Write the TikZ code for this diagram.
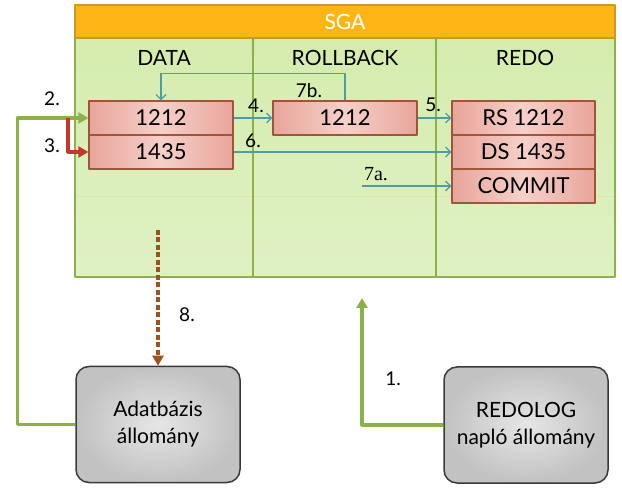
\documentclass[tikz,border=0pt]{standalone}
\usepackage{fontspec}
\setmainfont{Lato}
\newfontfamily\serifnum{Liberation Serif}
\usetikzlibrary{arrows.meta}
\definecolor{sgaorange}{HTML}{FFB514}
\definecolor{sgaedge}{HTML}{C99A24}
\definecolor{sgagreen}{HTML}{8EB04A}
\definecolor{bodytop}{HTML}{D5ECAE}
\definecolor{bodybot}{HTML}{DFF1C3}
\definecolor{recedge}{HTML}{A0553A}
\definecolor{recdark}{HTML}{E8A59B}
\definecolor{reclight}{HTML}{F5D0C9}
\definecolor{flowteal}{HTML}{4E9CA6}
\definecolor{flowred}{HTML}{C0392B}
\definecolor{flowbrown}{HTML}{A0521E}
\definecolor{fileedge}{HTML}{3A3A3A}
\tikzset{
	rec/.style={draw=recedge,line width=1.3pt,left color=recdark,right color=recdark,middle color=reclight,
		minimum width=144pt,minimum height=34pt,inner sep=0pt,font=\fontsize{22}{26}\selectfont},
	file/.style={draw=fileedge,line width=1.5pt,rounded corners=13pt,inner color=gray!20,outer color=gray!48,
		minimum width=164pt,minimum height=116pt,align=center,font=\fontsize{21}{27}\selectfont},
	lbl/.style={font=\fontsize{19}{22}\selectfont,inner sep=1pt},
	colhead/.style={font=\fontsize{21}{24}\selectfont},
	flow/.style={draw=flowteal,line width=1.2pt,-{Straight Barb[length=5pt,width=10pt]}},
	load/.style={draw=sgagreen,line width=3.2pt,-{Triangle[length=10pt,width=11pt]}}
}
\begin{document}
\begin{tikzpicture}[x=1pt,y=-1pt,line join=round]
	\useasboundingbox (0,0) rectangle (622,489);
	% SGA
	\draw[sgagreen,line width=2.4pt,top color=bodytop,bottom color=bodybot] (75,38) rectangle (615,277);
	\draw[sgaedge,line width=1.6pt,fill=sgaorange] (75,5) rectangle (615,38);
	\draw[bodytop!85!sgaorange,line width=0.5pt,opacity=0.6] (76,196)--(614,196);
	\draw[sgagreen,line width=1.3pt] (253,38)--(253,277) (436,38)--(436,277);
	\node[colhead,text=white] (sga) at (345,22) {SGA};
	\node[colhead] (hdata) at (164,58) {DATA};
	\node[colhead] (hroll) at (345,58) {ROLLBACK};
	\node[colhead] (hredo) at (525,58) {REDO};
	% blocks
	\node[rec] (d1212) at (161,118) {1212};
	\node[rec] (d1435) at (161,152) {1435};
	\node[rec] (r1212) at (345,118) {1212};
	\node[rec,minimum width=143pt] (rs) at (523.5,118) {RS 1212};
	\node[rec,minimum width=143pt] (ds) at (523.5,152) {DS 1435};
	\node[rec,minimum width=143pt] (commit) at (523.5,186) {COMMIT};
	% files
	\node[file] (adat) at (158,424.5) {Adatbázis\\állomány};
	\node[file] (redolog) at (526,425) {REDOLOG\\napló állomány};
	\coordinate (split) at (68,118);
	\coordinate (cstart) at (362,186);
	\coordinate (wstart) at (158,230);
	\coordinate (sgain) at (362,298);
	% flows
	\draw[flow] (d1212.east)--(r1212.west);
	\draw[flow] (r1212.east)--(rs.west);
	\draw[flow] (d1435.east)--(ds.west);
	\draw[flow] (cstart)--(commit.west);
	\draw[flow] (r1212.north)--++(0,-27) -| (d1212.north);
	\draw[load] (adat.west)--++(-58,0) |- (d1212.west);
	\draw[load,draw=flowred] (split) |- (d1435.west);
	\draw[load,draw=flowbrown,dashed,dash pattern=on 5pt off 2.5pt] (wstart)--(adat.north);
	\draw[load] (redolog.west) -| (sgain);
	% numbers
	\node[lbl] (n1) at (393,379) {1.};
	\node[lbl] (n2) at (52,99) {2.};
	\node[lbl] (n3) at (52,146) {3.};
	\node[lbl] (n4) at (256,106) {4.};
	\node[lbl] (n5) at (433,105) {5.};
	\node[lbl] (n6) at (253,141) {6.};
	\node[lbl,font=\serifnum\fontsize{20}{22}\selectfont] (n7a) at (376,174) {7a.};
	\node[lbl] (n7b) at (309,91) {7b.};
	\node[lbl] (n8) at (187,315) {8.};
\end{tikzpicture}
\end{document}
